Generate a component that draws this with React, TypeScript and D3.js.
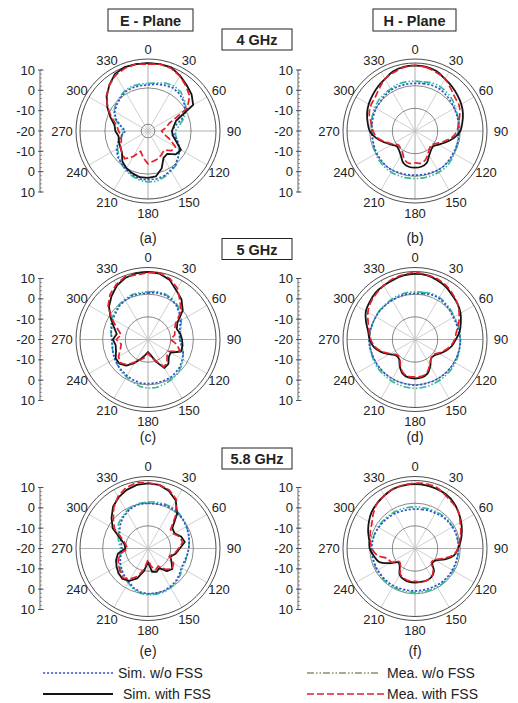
import React from "react";
import * as d3 from "d3";

// angles (deg) at which every series is sampled
const ANGLES = d3.range(0, 360, 10);
const ANGLE_LABELS = [0, 30, 60, 90, 120, 150, 180, 210, 240, 270, 300, 330];
const AXIS_LABELS = ["10", "0", "-10", "-20", "-10", "0", "10"];
const FREQS = ["4 GHz", "5 GHz", "5.8 GHz"];
const PLANES = ["E - Plane", "H - Plane"];
const LETTERS = ["(a)", "(b)", "(c)", "(d)", "(e)", "(f)"];

// ---- (a) E-plane 4 GHz
const aSimNo = [0.3, 1, 1.5, 2, 1.5, 0.5, -1, -4, -8, -9.5, -8, -6, -4, -2.5, -1, 0, 1, 1.5, 1.5, 1.5, 0.5, -0.5, -1.5, -2.5, -4, -6, -8, -10, -8, -5, -3, -2, -1, 0, 0.3, 0.3];
const aMeaNo = [1, 1.5, 2.5, 3, 2.5, 1, -0.5, -3, -6, -8, -7.5, -6, -4, -2.5, -0.5, 0.5, 1.5, 2.5, 2.5, 2, 1, 0, -1.5, -3, -4.5, -6.5, -8.5, -9, -7.5, -4.5, -2.5, -1.5, -0.5, 0.5, 1, 1];
const aSimFss = [9.9, 10, 9.9, 8.2, 6.5, 5.1, 3, -6.8, -8.5, -9.4, -9, -6.8, -3.2, -4, -6.8, -6.3, -2.4, 0.3, 0.7, 0.7, -0.1, -1, -2.4, -5, -5.9, -6.3, -6.8, -5.6, -5, -2.4, 0.7, 3.8, 6.5, 9.1, 10, 10];
const aMeaFss = [9.5, 10, 9.5, 8, 6, 4, 0, -10, -12, -14, -13, -10, -6, -6.5, -9, -8, -7, -6.5, -5.5, -8, -10.5, -7, -4, -5, -6, -7.5, -8, -7, -6, -3, 0.5, 4, 6.5, 8.5, 9.5, 10];

// ---- (b) H-plane 4 GHz
const bSimNo = [1, 1.2, 1.5, 1.5, 1, 0.5, 0, -0.3, -0.5, -0.5, -0.5, -0.5, -0.5, -0.3, 0, 0, -0.3, -0.5, -0.5, -0.5, -0.3, 0, 0, -0.3, -0.5, -0.8, -1, -1, -0.8, -0.5, -0.2, 0, 0.5, 1, 1, 1];
const bMeaNo = [2, 2, 2.5, 2.5, 2, 1.5, 0.5, 0, -0.5, -1, -0.8, -0.5, 0, 0.5, 1, 1, 1, 1, 1, 1, 1, 1, 0.8, 0.5, 0, -0.5, -0.8, -1, -0.5, 0, 0.5, 1, 1.2, 1.5, 2, 2];
const bSimFss = [8.8, 8.7, 8, 6.5, 5.5, 4.5, 3.6, 2.5, 1.2, 0, -2.5, -5.5, -8, -9.5, -9, -7.5, -5, -4, -3.8, -4, -5, -7.5, -9, -9.5, -8, -5.5, -2.5, 0, 1.2, 2.5, 3.6, 4.5, 5.5, 6.5, 8, 8.7];
const bMeaFss = [9, 8.5, 7.5, 6.5, 4.5, 3, 2.5, 1, -0.5, -1.5, -3.5, -6.5, -9, -10.5, -10, -8.5, -6.5, -5.5, -6, -5.5, -6.5, -9, -10, -10.5, -8.5, -6, -3, -1.5, -0.5, 1.5, 2.5, 3, 4.5, 6.5, 7.5, 8.5];

// ---- (c) E-plane 5 GHz
const cSimNo = [0.5, 1, 1, 0.5, -0.5, -2, -3.5, -5, -6, -6, -5, -3.5, -2.5, -1.5, -1, -0.5, -0.5, -0.5, -0.5, -0.5, -1, -1.5, -2, -2.5, -3, -3.5, -4, -4, -3.5, -3, -2, -1.5, -0.5, 0, 0.5, 0.5];
const cMeaNo = [1, 1.5, 1.5, 1, 0, -1.5, -3, -4.5, -5.5, -6, -5, -3.5, -2, -1, 0, 0.5, 1, 1.5, 1.5, 1, 0, -1, -1.5, -2.5, -3, -3.5, -4, -4, -3.5, -2.5, -1.5, -1, 0, 0.5, 1, 1];
const cSimFss = [9.8, 9.5, 8, 5, 3, 0, -5, -6.5, -5.5, -5, -4.5, -4.5, -8.5, -8, -6, -5.5, -9.5, -13, -14.5, -13, -11, -8, -5, -3.5, -3.5, -5, -5.5, -4.5, -6, -4, -1, 2.5, 5, 7.5, 9, 9.6];
const cMeaFss = [9.5, 9.8, 8.5, 6, 2, -1, -6, -7.5, -8, -10, -7, -5, -9.5, -9, -7, -6, -10, -12, -14, -12, -10.5, -8.5, -5.5, -4, -5, -7, -8, -6, -8, -5.5, -1.5, 3, 6, 8, 9.5, 9];

// ---- (d) H-plane 5 GHz
const dSimNo = [0.3, 0.5, 1, 1, 0.5, 0, -0.5, -0.5, -0.5, 0, 0, 0, 0, 0, 0, 0, 0, 0, 0.2, 0, 0, 0, 0, 0, 0, 0, 0.2, 0.3, 0.2, 0, 0, 0, 0, 0, 0.2, 0.3];
const dMeaNo = [1, 1.2, 1.5, 1.5, 1, 0.5, 0, 0, 0, 0, 0.2, 0.3, 0.5, 0.7, 0.8, 1, 1.2, 1.4, 1.5, 1.4, 1.2, 1, 0.8, 0.7, 0.5, 0.3, 0.2, 0, 0, 0, 0, 0.2, 0.3, 0.5, 0.8, 1];
const dSimFss = [9, 8.8, 8, 7, 5.5, 4.5, 3.2, 1.5, 0, -2, -3.5, -5.5, -7.5, -9, -9, -6.5, -4, -3, -2.8, -3, -4, -6.5, -9, -9, -7, -4, -1.5, 0, 1, 3, 5, 6, 7, 7.5, 8, 8.7];
const dMeaFss = [9.5, 9, 8.5, 7.5, 6, 4.5, 2.5, 0.5, -1.5, -2.5, -4, -6, -8, -9.5, -9, -7, -4.5, -3.5, -3.5, -3.5, -4.5, -7, -9.5, -9.5, -7.5, -4.5, -2, -0.5, 0.5, 2, 4, 5.5, 6.5, 7.5, 8.5, 9];

// ---- (e) E-plane 5.8 GHz
const eSimNo = [-0.1, 0, 0.5, 0.5, 0.5, 0, -0.5, -1, -1.5, -2, -2.5, -3, -3, -2, -1, -0.5, 0, 0, 0, -0.5, -1.5, -3, -4, -5, -6, -7, -8, -8.5, -8, -7, -5.5, -4, -2.5, -1.5, -0.5, 0];
const eMeaNo = [0.5, 0.8, 1, 1, 0.8, 0.3, -0.3, -1, -1.5, -2, -2.5, -2.5, -2.5, -1.5, -0.5, 0, 0.5, 0.5, 0.5, 0, -1, -2.5, -3.5, -4.5, -5.5, -6.5, -7.5, -8, -7, -6, -5, -3, -2, -1, 0, 0.3];
const eSimFss = [8.7, 8.5, 7, 4.5, 0, -6, -6.5, -4.5, -3.5, -6, -7.5, -9.5, -8, -6, -7, -10, -9, -9.5, -14, -10, -6, -3.5, -2.5, -3, -4, -5, -6.5, -10, -9.5, -7, -2, 1, 4, 6, 7.5, 8.5];
const eMeaFss = [9, 8.5, 7.5, 5, -1, -7, -7, -5, -4.5, -6.5, -8, -10, -7, -6, -8, -11, -10, -12, -15, -11, -7, -4.5, -3, -4, -5, -6, -8, -11, -10, -8, -3, 0, 3.5, 6.5, 8.5, 9.5];

// ---- (f) H-plane 5.8 GHz
const fSimNo = [-2.6, -2.5, -2.2, -2, -1.5, -1.2, -1, -0.8, -0.8, -0.8, -1, -1, -1, -1, -1, -1.2, -1.3, -1.3, -1.3, -1.3, -1.2, -1, -1, -1, -1, -1, -0.9, -0.9, -1, -1.2, -1.5, -1.8, -2, -2.2, -2.5, -2.6];
const fMeaNo = [-1.6, -1.6, -1.5, -1.3, -1, -0.8, -0.8, -0.7, -0.8, -0.8, -0.8, -0.7, -0.6, -0.5, -0.4, -0.4, -0.5, -0.6, -0.6, -0.6, -0.5, -0.4, -0.4, -0.5, -0.6, -0.7, -0.8, -0.8, -0.9, -1, -1.2, -1.3, -1.4, -1.5, -1.6, -1.6];
const fSimFss = [8.4, 8.3, 8, 7.5, 6.5, 5, 3.5, 2, 0.5, -1, -2.5, -6, -9.5, -10, -7, -5.5, -5, -5, -5, -5, -5.5, -6.5, -9.5, -10.5, -7, -3, -1.5, 0, 0.5, 2, 3.5, 5, 6, 7, 8, 8.3];
const fMeaFss = [8.8, 9, 8.5, 7, 6, 5, 3, 1.5, 0, -1, -3, -7, -10, -10.5, -7.5, -5.5, -5, -5, -5.5, -5.5, -6, -7, -10, -11, -8, -7, -3, -1, 0, 1, 2, 4, 6, 7, 8, 8.5];

const SERIES = [
  { key: "meaNo", name: "Mea. w/o FSS", color: "#2dbb98", legendColor: "#8d8f6e", dash: "7,2,1.5,2,1.5,2", width: 1.6 },
  { key: "simNo", name: "Sim. w/o FSS", color: "#2e55cf", legendColor: "#2e55cf", dash: "2.2,1.8", width: 1.7 },
  { key: "simFss", name: "Sim. with FSS", color: "#141414", legendColor: "#141414", dash: null, width: 1.8 },
  { key: "meaFss", name: "Mea. with FSS", color: "#e3202b", legendColor: "#e3202b", dash: "7,3", width: 1.7 },
];

const PANELS = [
  { row: 0, col: 0, smooth: false, rings: [-17, -1], data: { simNo: aSimNo, meaNo: aMeaNo, simFss: aSimFss, meaFss: aMeaFss } },
  { row: 0, col: 1, smooth: true, rings: [-10, 0], data: { simNo: bSimNo, meaNo: bMeaNo, simFss: bSimFss, meaFss: bMeaFss } },
  { row: 1, col: 0, smooth: false, rings: [-10, 0], data: { simNo: cSimNo, meaNo: cMeaNo, simFss: cSimFss, meaFss: cMeaFss } },
  { row: 1, col: 1, smooth: true, rings: [-10, 0], data: { simNo: dSimNo, meaNo: dMeaNo, simFss: dSimFss, meaFss: dMeaFss } },
  { row: 2, col: 0, smooth: false, rings: [-10, 0], data: { simNo: eSimNo, meaNo: eMeaNo, simFss: eSimFss, meaFss: eMeaFss } },
  { row: 2, col: 1, smooth: true, rings: [-10, 0], data: { simNo: fSimNo, meaNo: fMeaNo, simFss: fSimFss, meaFss: fMeaFss } },
];

const W = 518;
const H = 703;
const COL_CX = [148, 415];
const COL_AXIS_X = [40, 298];
const ROW_CY = [131, 339.5, 548.5];
const ROW_LETTER_Y = [238, 437, 651];
const FONT = "'Liberation Sans', Arial, sans-serif";

const R_MAX = 68;
const rScale = d3.scaleLinear().domain([-20, 10]).range([0, R_MAX]).clamp(true);

function Panel({ p, idx }: { p: any; idx: number }) {
  const cx = COL_CX[p.col];
  const cy = ROW_CY[p.row];
  const axisX = COL_AXIS_X[p.col];
  const axisY = d3.scaleLinear().domain([0, AXIS_LABELS.length - 1]).range([cy - 61, cy + 61]);
  const makeLine = (smooth: boolean) =>
    d3
      .lineRadial<number>()
      .angle((_, i) => (ANGLES[i] * Math.PI) / 180)
      .radius((d) => rScale(d))
      .curve(smooth ? d3.curveCatmullRomClosed.alpha(0.5) : d3.curveLinearClosed);
  const line = makeLine(p.smooth);
  const minorTicks = d3.range(0, AXIS_LABELS.length - 1 + 0.001, 0.2);
  return (
    <g>
      {/* radial axis on the left */}
      <g>
        <line x1={axisX} x2={axisX} y1={axisY(0)} y2={axisY(6)} stroke="#555" strokeWidth={0.9} />
        {minorTicks.map((t, i) => (
          <line key={i} x1={axisX} x2={axisX + 2} y1={axisY(t)} y2={axisY(t)} stroke="#666" strokeWidth={0.7} />
        ))}
        {AXIS_LABELS.map((lab, i) => (
          <g key={i}>
            <line x1={axisX - 2} x2={axisX + 3.5} y1={axisY(i)} y2={axisY(i)} stroke="#444" strokeWidth={0.9} />
            <text x={axisX - 5} y={axisY(i)} textAnchor="end" dominantBaseline="central" fontSize={13} fontFamily={FONT} fill="#222">
              {lab}
            </text>
          </g>
        ))}
      </g>
      <g transform={`translate(${cx},${cy})`}>
        {/* spokes */}
        {d3.range(0, 360, 30).map((a) => {
          const rad = (a * Math.PI) / 180;
          return (
            <line key={a} x1={0} y1={0} x2={R_MAX * Math.sin(rad)} y2={-R_MAX * Math.cos(rad)} stroke={a % 90 === 0 ? "#9a9a9a" : "#c4c4c4"} strokeWidth={0.8} />
          );
        })}
        {/* grid rings */}
        {p.rings.map((v: number) => (
          <circle key={v} r={rScale(v)} fill="none" stroke="#6a6a6a" strokeWidth={0.8} />
        ))}
        <circle r={R_MAX} fill="none" stroke="#3a3a3a" strokeWidth={0.9} />
        <circle r={R_MAX + 4} fill="none" stroke="#3a3a3a" strokeWidth={0.9} />
        {/* angle labels */}
        {ANGLE_LABELS.map((a) => {
          const rad = (a * Math.PI) / 180;
          const rr = a % 180 === 90 ? 86 : 82;
          return (
            <text key={a} x={rr * Math.sin(rad)} y={-rr * Math.cos(rad)} textAnchor="middle" dominantBaseline="central" fontSize={13} fontFamily={FONT} fill="#222">
              {a}
            </text>
          );
        })}
        {/* series */}
        {SERIES.map((s) => (
          <path
            key={s.key}
            d={line(p.data[s.key]) || ""}
            fill="none"
            stroke={s.color}
            strokeWidth={s.width}
            strokeDasharray={s.dash || undefined}
            strokeLinejoin="round"
          />
        ))}
      </g>
      <text x={cx} y={ROW_LETTER_Y[p.row]} textAnchor="middle" dominantBaseline="central" fontSize={14} fontFamily={FONT} fill="#222">
        {LETTERS[idx]}
      </text>
    </g>
  );
}

function Box({ x, y, w, h, label }: { x: number; y: number; w: number; h: number; label: string }) {
  return (
    <g>
      <rect x={x} y={y} width={w} height={h} fill="#fff" stroke="#222" strokeWidth={1} />
      <text x={x + w / 2} y={y + h / 2 + 0.5} textAnchor="middle" dominantBaseline="central" fontSize={14.5} fontWeight="bold" fontFamily={FONT} fill="#222">
        {label}
      </text>
    </g>
  );
}

export default function App() {
  const legendPos = [
    { key: "simNo", x1: 43, x2: 113, tx: 118, y: 673 },
    { key: "simFss", x1: 43, x2: 113, tx: 123, y: 694 },
    { key: "meaNo", x1: 307, x2: 380, tx: 387, y: 673 },
    { key: "meaFss", x1: 307, x2: 384, tx: 387, y: 694 },
  ];
  return (
    <svg width={W} height={H} style={{ position: "absolute", left: 0, top: 0, background: "#fff" }}>
      <rect width={W} height={H} fill="#fff" />
      <Box x={108} y={9} w={85} h={22} label={PLANES[0]} />
      <Box x={373} y={9} w={83} h={22} label={PLANES[1]} />
      {FREQS.map((f, i) => (
        <Box key={f} x={222} y={29 + i * 209.5} w={70} h={21} label={f} />
      ))}
      {PANELS.map((p, i) => (
        <Panel key={i} p={p} idx={i} />
      ))}
      {legendPos.map((lp) => {
        const s = SERIES.find((q) => q.key === lp.key)!;
        return (
          <g key={lp.key}>
            <line x1={lp.x1} x2={lp.x2} y1={lp.y} y2={lp.y} stroke={s.legendColor} strokeWidth={s.width} strokeDasharray={s.dash || undefined} />
            <text x={lp.tx} y={lp.y} dominantBaseline="central" fontSize={14} fontFamily={FONT} fill="#222">
              {s.name}
            </text>
          </g>
        );
      })}
    </svg>
  );
}
